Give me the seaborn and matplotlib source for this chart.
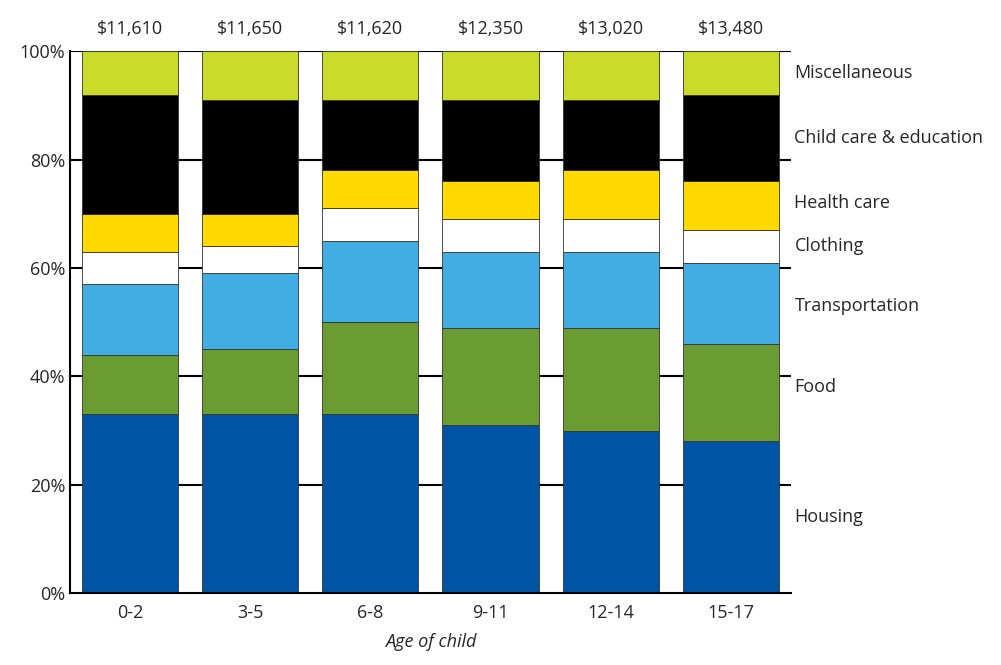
import numpy as np
import pandas as pd
import matplotlib
matplotlib.use('Agg')
import matplotlib.pyplot as plt
import seaborn as sns

sns.set_style('white')
plt.rcParams['font.family'] = ['Open Sans', 'DejaVu Sans']

ages = ['0-2', '3-5', '6-8', '9-11', '12-14', '15-17']
totals = ['$11,610', '$11,650', '$11,620', '$12,350', '$13,020', '$13,480']
categories = ['Housing', 'Food', 'Transportation', 'Clothing', 'Health care',
              'Child care & education', 'Miscellaneous']
housing = [33, 33, 33, 31, 30, 28]
food = [11, 12, 17, 18, 19, 18]
transport = [13, 14, 15, 14, 14, 15]
clothing = [6, 5, 6, 6, 6, 6]
health = [7, 6, 7, 7, 9, 9]
childcare = [22, 21, 13, 15, 13, 16]
misc = [8, 9, 9, 9, 9, 8]
colors = ['#0054a6', '#6a9c32', '#41ade2', '#ffffff', '#ffd900', '#000000', '#cadb2a']
label_y = [14, 38, 53, 64, 72, 84, 96]

series = [housing, food, transport, clothing, health, childcare, misc]

fig = plt.figure(figsize=(10.01, 6.65), dpi=100)
ax = fig.add_axes([0.07, 0.108, 0.72, 0.815])

for y in [20, 40, 60, 80, 100]:
    ax.axhline(y, color='black', lw=1.5, zorder=0)

bottom = np.zeros(len(ages))
for vals, col in zip(series, colors):
    df = pd.DataFrame({'age': ages, 'v': vals})
    sns.barplot(data=df, x='age', y='v', bottom=bottom, color=col, width=0.8,
                edgecolor='#333333', linewidth=0.6, saturation=1, ax=ax, zorder=2)
    bottom += np.array(vals)

ax.set_xlim(-0.5, 5.5)
ax.set_ylim(0, 100)
ax.set_yticks([0, 20, 40, 60, 80, 100])
ax.set_yticklabels([f'{t}%' for t in range(0, 101, 20)], fontsize=13)
ax.tick_params(axis='x', labelsize=13, length=0, pad=8)
ax.tick_params(axis='y', length=0)
ax.set_ylabel('')
ax.set_xlabel('Age of child', fontsize=13, style='italic', labelpad=8)
for s in ['top', 'right']:
    ax.spines[s].set_visible(False)
for s in ['left', 'bottom']:
    ax.spines[s].set_color('black')
    ax.spines[s].set_linewidth(1.5)

for i, t in enumerate(totals):
    ax.text(i, 102.5, t, ha='center', va='bottom', fontsize=13)
for c, y in zip(categories, label_y):
    ax.text(5.5 + 0.03, y, c, ha='left', va='center', fontsize=13)

fig.savefig('out.png', dpi=100)
